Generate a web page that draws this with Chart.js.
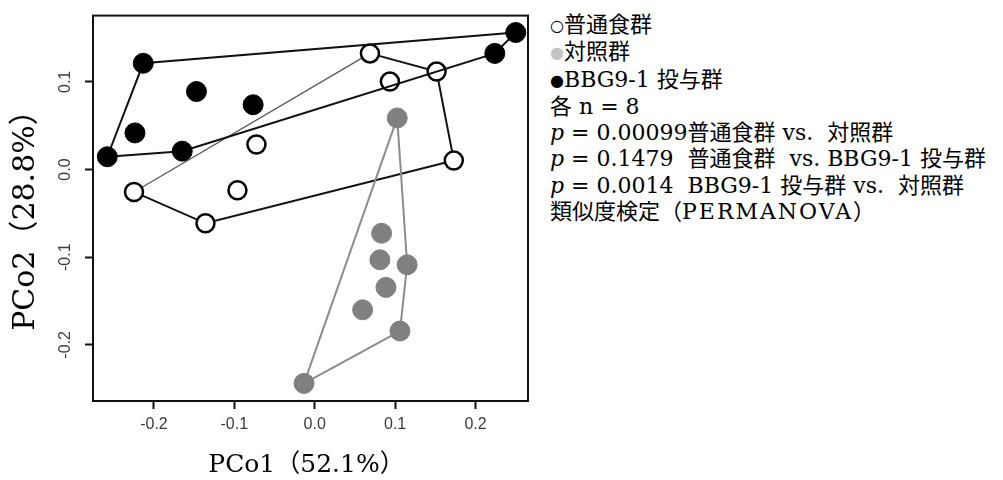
<!DOCTYPE html>
<html>
<head>
<meta charset="utf-8">
<script src="https://cdn.jsdelivr.net/npm/chart.js@4"></script>
<style>
  html, body { margin: 0; padding: 0; background: #fff; }
  #wrap { position: relative; width: 1003px; height: 480px; overflow: hidden; }
  #chartBox { position: absolute; left: 0; top: 0; width: 540px; height: 480px; }
  #notes { position: absolute; left: 550px; top: 12px; font-family: 'DejaVu Serif', 'Noto Sans CJK JP', serif;
           font-size: 22px; line-height: 26.3px; color: #000; white-space: pre; }
  #notes .mk { display: inline-block; width: 14px; font-family: 'DejaVu Sans', sans-serif; font-size: 16px; vertical-align: 1px; }
  #notes i { font-family: 'DejaVu Serif', serif; }
  #notes .ls { letter-spacing: 2px; }
</style>
</head>
<body>
<div id="wrap">
  <div id="chartBox"><canvas id="c" width="540" height="480"></canvas></div>
  <div id="notes"><div><span class="mk">○</span>普通食群</div><div><span class="mk" style="color:#c4c4c4">●</span>対照群</div><div><span class="mk">●</span>BBG9-1 投与群</div><div>各 n = 8</div><div><i>p</i> = 0.00099普通食群 vs.  対照群</div><div><i>p</i> = 0.1479  普通食群  vs. BBG9-1 投与群</div><div><i>p</i> = 0.0014  BBG9-1 投与群 vs.  対照群</div><div>類似度検定（<span class="ls">PERMANOVA</span>）</div></div>
</div>
<script>
// ---- data (PCo1, PCo2) ----
const normalDiet = [[-0.0725, 0.0286], [-0.2248, -0.0255], [-0.0961, -0.0236], [-0.1359, -0.0613],
                    [0.0687, 0.1325], [0.0935, 0.1003], [0.1516, 0.1117], [0.1730, 0.0104]];
const control    = [[0.1026, 0.0588], [0.0832, -0.0727], [0.0811, -0.1029], [0.1150, -0.1086],
                    [0.0886, -0.1344], [0.0596, -0.1600], [0.1060, -0.1842], [-0.0133, -0.2439]];
const bbg91      = [[-0.2133, 0.1212], [-0.1471, 0.0890], [-0.0766, 0.0739], [-0.2236, 0.0418],
                    [-0.2580, 0.0146], [-0.1648, 0.0210], [0.2501, 0.1563], [0.2240, 0.1325]];
// convex hull vertex order (indices into the arrays above)
const normalHull  = [1, 3, 7, 6, 4, 1];
const controlHull = [7, 0, 3, 6, 7];
const bbgHull     = [4, 0, 6, 7, 5, 4];
// axes
const xTicks = [-0.2, -0.1, 0.0, 0.1, 0.2];
const yTicks = [-0.2, -0.1, 0.0, 0.1];
const xRange = [-0.2758, 0.2653];
const yRange = [-0.264, 0.1756];
const xTitle = 'PCo1（52.1%） ';
const yTitle = 'PCo2（28.8%） ';

const toXY = arr => arr.map(p => ({x: p[0], y: p[1]}));
const hullXY = (arr, idx) => idx.map(i => ({x: arr[i][0], y: arr[i][1]}));

const frame = {
  id: 'frame',
  afterDatasetsDraw(chart) {
    const {ctx, chartArea: a} = chart;
    ctx.save();
    ctx.strokeStyle = '#111';
    ctx.lineWidth = 2;
    ctx.strokeRect(a.left, a.top, a.right - a.left, a.bottom - a.top);
    ctx.restore();
  }
};

const tickFont = {family: "'Liberation Sans', Arial, sans-serif", size: 16};
const serif = "'DejaVu Serif', 'Noto Sans CJK JP', serif";

new Chart(document.getElementById('c'), {
  type: 'scatter',
  data: {
    datasets: [
      { label: 'BBG9-1 points', data: toXY(bbg91), order: 1,
        pointRadius: 10, pointBackgroundColor: '#000', pointBorderColor: '#000', pointBorderWidth: 1 },
      { label: 'BBG9-1 hull', type: 'line', data: hullXY(bbg91, bbgHull), order: 2, showLine: true,
        pointRadius: 0, borderColor: '#111', borderWidth: 2, fill: false, tension: 0 },
      { label: '対照群 points', data: toXY(control), order: 3,
        pointRadius: 10, pointBackgroundColor: '#808080', pointBorderColor: '#808080', pointBorderWidth: 1 },
      { label: '対照群 hull', type: 'line', data: hullXY(control, controlHull), order: 4, showLine: true,
        pointRadius: 0, borderColor: '#8c8c8c', borderWidth: 2, fill: false, tension: 0 },
      { label: '普通食群 points', data: toXY(normalDiet), order: 5,
        pointRadius: 9, pointBackgroundColor: '#fff', pointBorderColor: '#000', pointBorderWidth: 2.5 },
      { label: '普通食群 hull', type: 'line', data: hullXY(normalDiet, normalHull), order: 6, showLine: true,
        pointRadius: 0, borderColor: '#111', borderWidth: 2, fill: false, tension: 0,
        segment: {
          borderColor: ctx => ctx.p0DataIndex === normalHull.length - 2 ? '#555' : '#111',
          borderWidth: ctx => ctx.p0DataIndex === normalHull.length - 2 ? 1.2 : 2
        } }
    ]
  },
  options: {
    responsive: false,
    animation: false,
    events: [],
    layout: { padding: { left: 0, right: 12, top: 13, bottom: 0 } },
    plugins: { legend: { display: false }, tooltip: { enabled: false } },
    scales: {
      x: {
        type: 'linear', min: xRange[0], max: xRange[1],
        afterBuildTicks: s => { s.ticks = xTicks.map(v => ({value: v})); },
        afterFit: s => { s.height = 79; },
        grid: { display: true, drawOnChartArea: false, drawTicks: true, tickLength: 8, tickWidth: 2, tickColor: '#111' },
        border: { display: true, color: '#111', width: 2 },
        ticks: { font: tickFont, color: '#3a3a48', padding: 6, maxRotation: 0,
                 callback: v => v.toFixed(1) },
        title: { display: true, text: xTitle, font: {family: serif, size: 25}, color: '#000', padding: { top: 0, bottom: 0 } }
      },
      y: {
        type: 'linear', min: yRange[0], max: yRange[1],
        afterBuildTicks: s => { s.ticks = yTicks.map(v => ({value: v})); },
        afterFit: s => { s.width = 93; },
        grid: { display: true, drawOnChartArea: false, drawTicks: true, tickLength: 8, tickWidth: 2, tickColor: '#111' },
        border: { display: true, color: '#111', width: 2 },
        ticks: { font: tickFont, color: '#3a3a48', padding: 6, minRotation: 90, maxRotation: 90, crossAlign: 'center',
                 callback: v => v.toFixed(1) },
        title: { display: true, text: yTitle, font: {family: serif, size: 30}, color: '#000', padding: { top: 8, bottom: 0 } }
      }
    }
  },
  plugins: [frame]
});
</script>
</body>
</html>
